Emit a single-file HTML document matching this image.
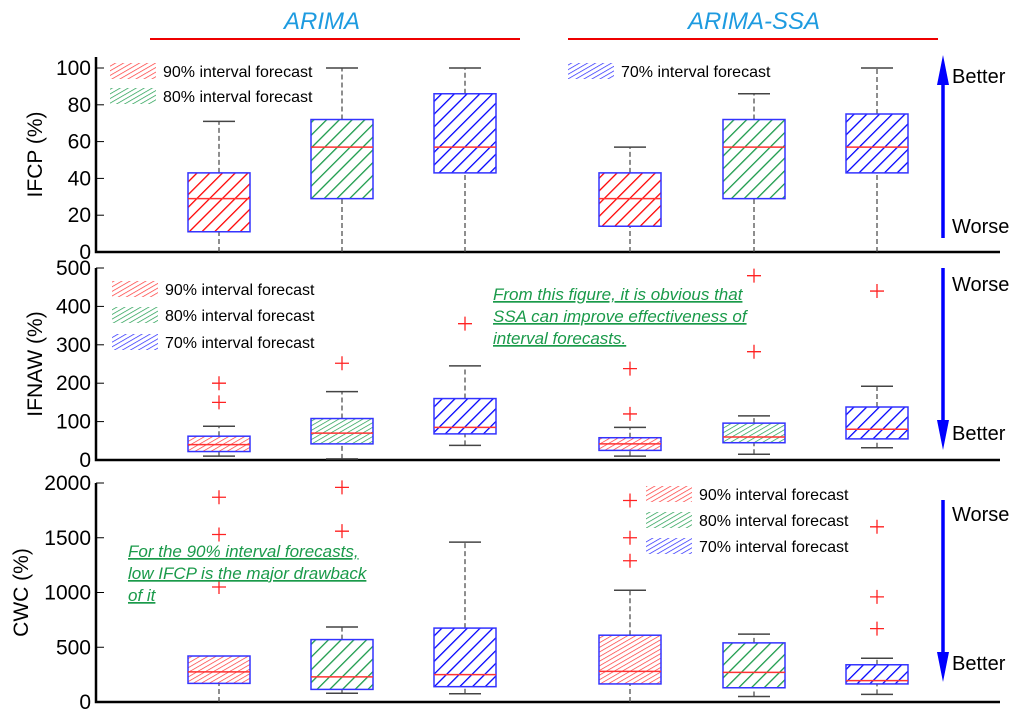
<!DOCTYPE html>
<html><head><meta charset="utf-8"><style>
body{margin:0;background:#fff;width:1024px;height:719px;overflow:hidden}
svg{display:block;font-family:"Liberation Sans",Arial,sans-serif}
</style></head><body>
<svg id="chart" width="1024" height="719">
<defs>
<pattern id="hr" patternUnits="userSpaceOnUse" width="9" height="9" patternTransform="rotate(45)"><line x1="0" y1="0" x2="0" y2="9" stroke="#f00" stroke-width="2.6"/></pattern>
<pattern id="hg" patternUnits="userSpaceOnUse" width="9" height="9" patternTransform="rotate(45)"><line x1="0" y1="0" x2="0" y2="9" stroke="#1a9a4a" stroke-width="2.6"/></pattern>
<pattern id="hb" patternUnits="userSpaceOnUse" width="9" height="9" patternTransform="rotate(45)"><line x1="0" y1="0" x2="0" y2="9" stroke="#00f" stroke-width="2.6"/></pattern>
<pattern id="dr" patternUnits="userSpaceOnUse" width="4" height="4" patternTransform="rotate(60)"><line x1="0" y1="0" x2="0" y2="4" stroke="#f33" stroke-width="1.4"/></pattern>
<pattern id="dg" patternUnits="userSpaceOnUse" width="4" height="4" patternTransform="rotate(60)"><line x1="0" y1="0" x2="0" y2="4" stroke="#1a9a4a" stroke-width="1.4"/></pattern>
<pattern id="db" patternUnits="userSpaceOnUse" width="4" height="4" patternTransform="rotate(60)"><line x1="0" y1="0" x2="0" y2="4" stroke="#22f" stroke-width="1.4"/></pattern>
</defs>
<g>
<text x="322" y="29" font-size="24" font-style="italic" fill="#1e9be0" text-anchor="middle">ARIMA</text>
<line x1="150" y1="39" x2="520" y2="39" stroke="#e00" stroke-width="2"/>
<text x="754" y="29" font-size="24" font-style="italic" fill="#1e9be0" text-anchor="middle">ARIMA-SSA</text>
<line x1="568" y1="39" x2="938" y2="39" stroke="#e00" stroke-width="2"/>
</g>
</svg>
<script>
// box centers (categories)
const categories = ["ARIMA-90","ARIMA-80","ARIMA-70","SSA-90","SSA-80","SSA-70"];
const colorKeys = ["r","g","b","r","g","b"];
// IFCP: [low whisker, q1, median, q3, high whisker]
const ifcpStats = [[0,11,29,43,71],[0,29,57,72,100],[0,43,57,86,100],[0,14,29,43,57],[0,29,57,72,86],[0,43,57,75,100]];
const ifcpOutliers = [[],[],[],[],[],[]];
const ifcpTicks = [0,20,40,60,80,100];
// IFNAW
const ifnawStats = [[10,22,40,62,88],[3,42,70,108,178],[38,68,85,160,245],[10,25,42,58,85],[15,45,60,96,115],[32,55,80,138,192]];
const ifnawOutliers = [[200,150],[252],[355],[238,120],[480,282],[440]];
const ifnawTicks = [0,100,200,300,400,500];
// CWC
const cwcStats = [[0,170,275,420,420],[80,115,230,570,685],[75,140,250,675,1460],[0,165,280,610,1020],[50,130,270,540,620],[70,165,195,340,400]];
const cwcOutliers = [[1870,1530,1050],[1960,1560],[],[1840,1500,1290],[],[1600,960,670]];
const cwcTicks = [0,500,1000,1500,2000];

const NS="http://www.w3.org/2000/svg";
const svg=document.getElementById('chart');
const xCenters=[219,342,465,630,754,877];
function el(t,a,p){const e=document.createElementNS(NS,t);for(const k in a)e.setAttribute(k,a[k]);(p||svg).appendChild(e);return e;}

const panels=[
 {name:'ifcp',label:'IFCP (%)',lx:42,stats:ifcpStats,outs:ifcpOutliers,ticks:ifcpTicks,max:100,y0:252,yMax:68,top:57,arrow:'up',better:83,worse:233,aTop:55,aBot:238,dense:[0,0,0,0,0,0]},
 {name:'ifnaw',label:'IFNAW (%)',lx:42,stats:ifnawStats,outs:ifnawOutliers,ticks:ifnawTicks,max:500,y0:460,yMax:268,top:268,arrow:'down',better:440,worse:291,aTop:268,aBot:450,dense:[1,1,0,1,1,0]},
 {name:'cwc',label:'CWC (%)',lx:28,stats:cwcStats,outs:cwcOutliers,ticks:cwcTicks,max:2000,y0:702,yMax:483,top:483,arrow:'down',better:670,worse:521,aTop:500,aBot:682,dense:[1,0,0,1,0,0]}
];
panels.forEach(P=>{
 const g=el('g',{});
 
 
 const y=v=>P.y0-(v/P.max)*(P.y0-P.yMax);
 const ax=el('path',{d:`M96 ${P.top} L96 ${P.y0} L1000 ${P.y0}`,fill:'none',stroke:'#000','stroke-width':2.5},g);
 
 
 P.ticks.forEach(t=>{
  el('line',{x1:96,x2:104,y1:y(t),y2:y(t),stroke:'#000','stroke-width':1},g);
  const tx=el('text',{x:91,y:y(t)+7,'font-size':21,'text-anchor':'end',fill:'#000'},g);
  tx.textContent=t;
  
  
 });
 const yl=el('text',{x:0,y:0,'font-size':21,'text-anchor':'middle',transform:`translate(${P.lx} ${(P.y0+P.top)/2}) rotate(-90)`},g);
 yl.textContent=P.label;
 
 
 P.stats.forEach((s,i)=>{
  const cx=xCenters[i],w=62;
  const bg=el('g',{},g);
  
  
  el('line',{x1:cx,x2:cx,y1:y(s[0]),y2:y(s[1]),stroke:'#444','stroke-width':1.2,'stroke-dasharray':'5 3'},bg);
  el('line',{x1:cx,x2:cx,y1:y(s[3]),y2:y(s[4]),stroke:'#444','stroke-width':1.2,'stroke-dasharray':'5 3'},bg);
  if(s[0]>0)el('line',{x1:cx-16,x2:cx+16,y1:y(s[0]),y2:y(s[0]),stroke:'#444','stroke-width':1.5},bg);
  if(s[4]>s[3])el('line',{x1:cx-16,x2:cx+16,y1:y(s[4]),y2:y(s[4]),stroke:'#444','stroke-width':1.5},bg);
  const c=colorKeys[i];
  const pat=(P.dense[i]?'d':'h')+c;
  el('rect',{x:cx-w/2,y:y(s[3]),width:w,height:y(s[1])-y(s[3]),fill:`url(#${pat})`,stroke:'#33f','stroke-width':1.5},bg);
  el('line',{x1:cx-w/2,x2:cx+w/2,y1:y(s[2]),y2:y(s[2]),stroke:'#f33','stroke-width':1.5},bg);
  P.outs[i].forEach(o=>{
   const p=el('path',{d:`M${cx-7} ${y(o)} h14 M${cx} ${y(o)-7} v14`,stroke:'#f22','stroke-width':1.3},bg);
   
   
  });
 });
 const ar=el('g',{},g);
 
 
 if(P.arrow==='up'){
  el('line',{x1:943,x2:943,y1:P.aTop+20,y2:P.aBot,stroke:'#00f','stroke-width':3.5},ar);
  el('path',{d:`M937 ${P.aTop+30} L943 ${P.aTop} L949 ${P.aTop+30}Z`,fill:'#00f'},ar);
 } else {
  el('line',{x1:943,x2:943,y1:P.aTop,y2:P.aBot-20,stroke:'#00f','stroke-width':3.5},ar);
  el('path',{d:`M937 ${P.aBot-30} L943 ${P.aBot} L949 ${P.aBot-30}Z`,fill:'#00f'},ar);
 }
 const b=el('text',{x:952,y:P.better,'font-size':20},ar);b.textContent='Better';
 const wv=el('text',{x:952,y:P.worse,'font-size':20},ar);wv.textContent='Worse';
});

function legend(x,yy,key,text){
 const g=el('g',{});
 
 
 el('rect',{x:x,y:yy-8,width:46,height:16,fill:`url(#d${key})`},g);
 const t=el('text',{x:x+53,y:yy+6,'font-size':16},g);t.textContent=text;
}
legend(110,71,'r','90% interval forecast');legend(110,96,'g','80% interval forecast');
legend(568,71,'b','70% interval forecast');
legend(112,289,'r','90% interval forecast');legend(112,315,'g','80% interval forecast');legend(112,342,'b','70% interval forecast');
legend(646,494,'r','90% interval forecast');legend(646,520,'g','80% interval forecast');legend(646,546,'b','70% interval forecast');

function note(x,ys,lines,name){
 const g=el('g',{});
 
 
 lines.forEach((l,i)=>{
  const t=el('text',{x:x,y:ys+i*22,'font-size':17,'font-style':'italic',fill:'#1a9a4a','text-decoration':'underline'},g);
  t.textContent=l;
 });
}
note(493,300,['From this figure, it is obvious that','SSA can improve effectiveness of','interval forecasts.'],'annotation-ssa');
note(128,557,['For the 90% interval forecasts,','low IFCP is the major drawback','of it'],'annotation-ifcp');
</script>
</body></html>
